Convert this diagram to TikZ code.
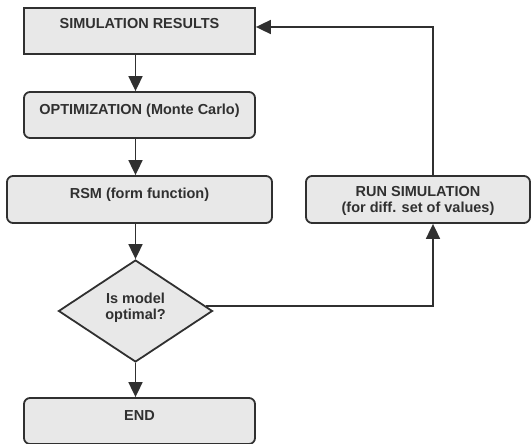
\documentclass[tikz,border=0pt]{standalone}
\usepackage{fontspec}
\setmainfont{Liberation Sans}
\usetikzlibrary{shapes.geometric,arrows.meta}
\definecolor{boxfill}{HTML}{E8E8E8}
\definecolor{ink}{HTML}{303030}
\tikzset{
  base/.style={draw=ink, fill=boxfill, line width=1.8pt, inner sep=0pt,
    text=ink, font=\fontsize{14.5}{16}\selectfont\bfseries, align=center},
  sqbox/.style={base, rectangle, minimum width=231pt, minimum height=46pt},
  rbox/.style={base, rectangle, rounded corners=6pt, minimum height=46pt},
  decision/.style={base, diamond, minimum width=154pt, minimum height=102pt},
  arr/.style={draw=ink, line width=1.8pt, -{Triangle[width=14pt,length=15pt]}},
}
\begin{document}
\begin{tikzpicture}[x=1pt,y=-1pt]
\useasboundingbox (0,0) rectangle (531,444);
\node[sqbox, text height=11pt, text depth=16.6pt] (sim) at (139.5,31) {SIMULATION RESULTS};
\node[rbox, minimum width=231pt, text height=11pt, text depth=11pt] (opt) at (139.5,115) {OPTIMIZATION (Monte Carlo)};
\node[rbox, minimum width=265pt, minimum height=47pt, text height=11pt, text depth=13pt] (rsm) at (139.5,199.5) {RSM (form function)};
\node[decision, text height=20.6pt, text depth=4pt] (dia) at (135.5,311) {Is model\\optimal?};
\node[rbox, minimum width=231pt, text height=11pt, text depth=12.6pt] (end) at (139.5,421) {END};
\node[rbox, minimum width=224pt, minimum height=47pt, text height=30.6pt, text depth=4pt] (run) at (418,199.5) {RUN SIMULATION\\(for diff. set of values)};
\draw[arr] (sim.south -| dia) -- (opt.north -| dia);
\draw[arr] (opt.south -| dia) -- (rsm.north -| dia);
\draw[arr] (rsm.south -| dia) -- (dia.north);
\draw[arr] (dia.south) -- (end.north -| dia);
\draw[arr] (dia.4) -| ([xshift=15pt]run.south);
\draw[arr] ([xshift=15pt]run.north) |- ([yshift=4pt]sim.east);
\end{tikzpicture}
\end{document}
